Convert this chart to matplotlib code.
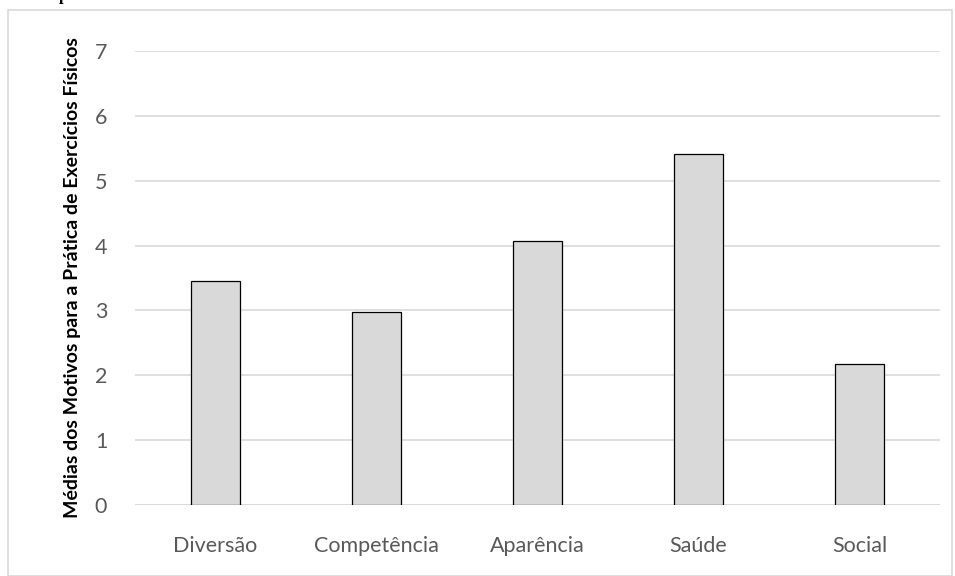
import matplotlib
matplotlib.use("Agg")
import matplotlib.pyplot as plt
from matplotlib.patches import Rectangle

categories = ["Diversão", "Competência", "Aparência", "Saúde", "Social"]
values = [3.46, 2.98, 4.07, 5.41, 2.17]
yticks = [0, 1, 2, 3, 4, 5, 6, 7]
ylabel = "Médias dos Motivos para a Prática de Exercícios Físicos"
title = "Comparativo das Médias entre as dimensões motivacionais"

plt.rcParams['font.family'] = ['Lato', 'DejaVu Sans']

fig = plt.figure(figsize=(9.55, 5.76), dpi=100)
W, H = 955, 576
ax = fig.add_axes([135 / W, 1 - 505 / H, (940 - 135) / W, (505 - 51) / H])

x = list(range(len(categories)))
ax.bar(x, values, width=0.31, color="#d9d9d9", edgecolor="black", linewidth=0.9, zorder=3)
ax.set_xlim(-0.5, len(categories) - 0.5)
ax.set_ylim(0, 7)
ax.set_yticks(yticks)
ax.set_xticks(x)
ax.set_xticklabels(categories)
ax.tick_params(axis="both", length=0, labelsize=15.5, colors="#595959")
ax.tick_params(axis="y", pad=20)
ax.tick_params(axis="x", pad=22)
ax.yaxis.grid(True, color="#d9d9d9", linewidth=1.2, zorder=0)
for s in ax.spines.values():
    s.set_visible(False)
ax.axhline(0, color="#d9d9d9", linewidth=1.2, zorder=1)
ax.set_ylabel(ylabel, fontsize=14, fontweight="bold", color="black", labelpad=10)

# outer chart frame
fig.patches.append(Rectangle((8 / W, 0), (W - 11) / W, 1 - 10 / H, transform=fig.transFigure,
                             fill=False, edgecolor="#d9d9d9", linewidth=1.2))

# partially clipped caption at top
fig.text(25 / W, 1.0, title, fontsize=12, fontweight="bold",
         family="Liberation Serif", va="baseline", ha="left")

fig.savefig("out.png", dpi=100)
